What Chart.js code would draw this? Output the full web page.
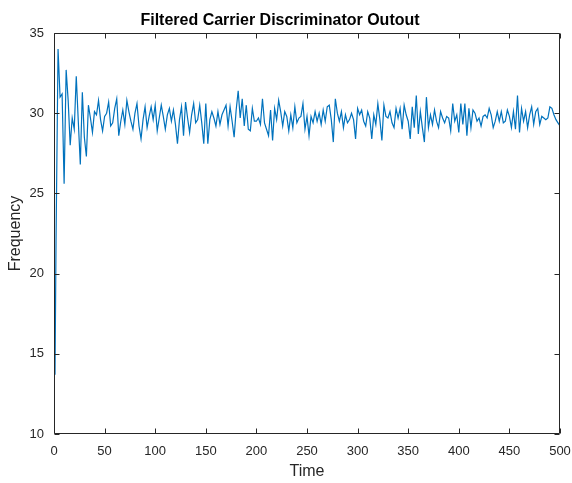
<!DOCTYPE html>
<html>
<head>
<meta charset="utf-8">
<script src="https://cdn.jsdelivr.net/npm/chart.js@4/dist/chart.umd.min.js"></script>
<style>
html,body{margin:0;padding:0;background:#fff;}
#c{display:block;}
</style>
</head>
<body>
<canvas id="c" width="572" height="483"></canvas>
<script>
const chartTitle = 'Filtered Carrier Discriminator Outout';
const xLabel = 'Time';
const yLabel = 'Frequency';
const xTicks = [0, 50, 100, 150, 200, 250, 300, 350, 400, 450, 500];
const yTicks = [10, 15, 20, 25, 30, 35];

const times = [
  1,2,4,6,8,10,12,14,16,18,20,22,24,26,28,30,32,34,36,38,40,42,44,46,48,
  50,52,54,56,58,60,62,64,66,68,70,72,74,76,78,80,82,84,86,88,90,92,94,96,98,
  100,102,104,106,108,110,112,114,116,118,120,122,124,126,128,130,132,134,136,138,140,142,144,146,148,
  150,152,154,156,158,160,162,164,166,168,170,172,174,176,178,180,182,184,186,188,190,192,194,196,198,
  200,202,204,206,208,210,212,214,216,218,220,222,224,226,228,230,232,234,236,238,240,242,244,246,248,
  250,252,254,256,258,260,262,264,266,268,270,272,274,276,278,280,282,284,286,288,290,292,294,296,298,
  300,302,304,306,308,310,312,314,316,318,320,322,324,326,328,330,332,334,336,338,340,342,344,346,348,
  350,352,354,356,358,360,362,364,366,368,370,372,374,376,378,380,382,384,386,388,390,392,394,396,398,
  400,402,404,406,408,410,412,414,416,418,420,422,424,426,428,430,432,434,436,438,440,442,444,446,448,
  450,452,454,456,458,460,462,464,466,468,470,472,474,476,478,480,482,484,486,488,490,492,494,496,498,500
];

const frequency = [
  13.7,22.0,34.0,31.0,31.2,25.6,32.7,30.8,28.0,29.7,29.0,32.3,29.5,26.8,31.3,28.5,27.3,30.5,29.7,28.8,30.1,29.9,30.8,29.6,28.9,
  29.8,30.0,30.7,29.2,29.4,30.3,30.9,28.6,29.5,30.2,29.3,30.8,30.1,29.5,29.0,30.0,30.6,29.2,28.4,29.6,30.4,29.1,29.8,30.4,29.6,
  30.5,28.9,29.7,30.5,29.8,29.0,29.9,30.3,29.5,30.2,29.3,28.1,29.6,30.4,28.6,30.7,29.7,28.8,29.9,30.6,29.4,29.6,30.5,29.4,28.1,
  30.6,28.1,29.6,30.1,29.7,29.2,30.1,29.3,29.9,30.2,30.5,29.2,30.4,29.5,28.5,30.2,31.4,29.7,30.9,29.2,30.5,29.0,28.9,30.3,29.5,
  29.5,29.7,29.3,30.9,29.4,29.0,28.6,30.2,28.3,30.3,29.6,30.8,30.1,29.2,30.1,29.8,28.9,29.9,29.1,30.4,29.4,29.7,29.8,30.6,29.0,
  29.8,28.6,29.8,29.4,30.1,29.5,30.0,29.3,30.2,29.5,30.4,30.5,29.6,28.2,30.9,30.0,29.5,30.1,29.1,29.9,29.4,29.6,30.0,29.6,28.4,
  30.3,29.9,30.2,29.5,29.2,30.1,29.7,28.4,29.9,29.3,30.6,29.6,28.3,30.5,29.8,29.7,30.1,29.4,29.1,30.3,29.7,30.3,29.0,30.5,29.9,
  29.5,28.4,30.4,29.1,31.1,28.7,30.1,29.1,28.2,31.0,29.1,29.9,29.3,30.2,29.5,29.1,30.1,29.7,29.4,29.8,29.7,28.9,30.6,29.5,29.9,
  28.8,30.6,29.3,30.6,28.6,30.3,29.1,30.2,30.0,29.5,29.7,29.2,29.8,29.9,29.7,30.3,29.9,29.1,29.5,30.1,29.5,30.1,29.4,29.5,30.2,
  29.8,29.1,30.1,29.0,31.1,28.8,30.3,29.5,30.1,29.1,29.9,30.4,29.3,30.1,30.3,29.3,29.8,29.7,29.6,29.7,30.4,30.3,29.9,29.6,29.4,29.2
];

const axisColor = '#262626';
const lineColor = '#0072BD';
const fontFamily = '"Liberation Sans", Arial, Helvetica, sans-serif';

const boxPlugin = {
  id: 'matlabBox',
  afterDraw(chart) {
    const {ctx, chartArea: a, scales: {x, y}} = chart;
    const L = Math.round(a.left) + 0.5, R = Math.round(a.right) - 0.5;
    const T = Math.round(a.top) + 0.5, B = Math.round(a.bottom) - 0.5;
    const tl = 5;
    ctx.save();
    ctx.strokeStyle = axisColor;
    ctx.lineWidth = 1;
    ctx.beginPath();
    ctx.moveTo(L, T); ctx.lineTo(R, T); ctx.lineTo(R, B); ctx.lineTo(L, B); ctx.lineTo(L, T);
    x.ticks.forEach(t => {
      const px = Math.round(x.getPixelForValue(t.value)) + 0.5;
      ctx.moveTo(px, B); ctx.lineTo(px, B - tl);
      ctx.moveTo(px, T); ctx.lineTo(px, T + tl);
    });
    y.ticks.forEach(t => {
      const py = Math.round(y.getPixelForValue(t.value)) + 0.5;
      ctx.moveTo(L, py); ctx.lineTo(L + tl, py);
      ctx.moveTo(R, py); ctx.lineTo(R - tl, py);
    });
    ctx.stroke();
    ctx.restore();
  }
};

new Chart(document.getElementById('c'), {
  type: 'line',
  data: {
    datasets: [{
      data: times.map((t, i) => ({x: t, y: frequency[i]})),
      borderColor: lineColor,
      borderWidth: 1.2,
      pointRadius: 0,
      tension: 0,
      fill: false
    }]
  },
  options: {
    responsive: false,
    animation: false,
    layout: {padding: {top: 0, right: 12, bottom: 0, left: 0}},
    plugins: {
      legend: {display: false},
      tooltip: {enabled: false},
      title: {
        display: true,
        text: chartTitle,
        color: '#000',
        font: {family: fontFamily, size: 16, weight: 'bold'},
        padding: {top: 11, bottom: 2.8}
      }
    },
    scales: {
      x: {
        type: 'linear',
        min: 0, max: 500,
        afterBuildTicks: s => { s.ticks = xTicks.map(v => ({value: v})); },
        afterFit: s => { s.height = 49; s.paddingLeft = 0; s.paddingRight = 0; },
        grid: {display: false, drawTicks: false},
        border: {display: false},
        ticks: {color: axisColor, font: {family: fontFamily, size: 13}, padding: 10, maxRotation: 0},
        title: {display: true, text: xLabel, color: axisColor, font: {family: fontFamily, size: 16}, padding: {top: 0, bottom: 2}}
      },
      y: {
        type: 'linear',
        min: 10, max: 35,
        afterBuildTicks: s => { s.ticks = yTicks.map(v => ({value: v})); },
        afterFit: s => { s.width = 54; s.paddingTop = 0; s.paddingBottom = 0; },
        grid: {display: false, drawTicks: false},
        border: {display: false},
        ticks: {color: axisColor, font: {family: fontFamily, size: 13}, padding: 10},
        title: {display: true, text: yLabel, color: axisColor, font: {family: fontFamily, size: 16}, padding: {top: 5.5, bottom: 0}}
      }
    }
  },
  plugins: [boxPlugin]
});
</script>
</body>
</html>
